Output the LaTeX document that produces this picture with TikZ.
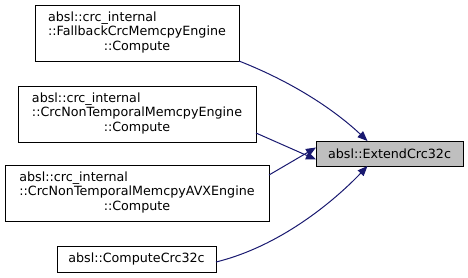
\documentclass[tikz,border=0pt]{standalone}
\usepackage{fontspec}
\setmainfont{DejaVu Sans}
\usetikzlibrary{arrows.meta}
\definecolor{edgeblue}{HTML}{191970}
\definecolor{hitgray}{HTML}{BFBFBF}
\newcommand{\qname}[2]{\begin{tabular}{@{}l@{}}#1\\\multicolumn{1}{@{}c@{}}{#2}\end{tabular}}
\begin{document}
\begin{tikzpicture}[x=1pt, y=-1pt, font=\fontsize{12.7}{14.2}\selectfont,
  fn/.style={draw, line width=1pt, fill=white, inner sep=0pt, outer sep=0pt},
  call/.style={draw=edgeblue, line width=1pt, -{Triangle[length=10pt, width=8pt]}}]
	\useasboundingbox (0, 0) rectangle (468, 277);
	\node[fn, minimum width=204pt, minimum height=56pt] (a) at (137, 33) {\qname{absl::crc\_internal\\::FallbackCrcMemcpyEngine}{::Compute}};
	\node[fn, minimum width=238pt, minimum height=56pt] (b) at (137, 114) {\qname{absl::crc\_internal\\::CrcNonTemporalMemcpyEngine}{::Compute}};
	\node[fn, minimum width=264pt, minimum height=56pt] (c) at (137, 193) {\qname{absl::crc\_internal\\::CrcNonTemporalMemcpyAVXEngine}{::Compute}};
	\node[fn, minimum width=159pt, minimum height=26pt] (d) at (136.5, 259) {absl::ComputeCrc32c};
	\node[fn, fill=hitgray, minimum width=147pt, minimum height=25pt] (t) at (389.5, 153.5) {absl::ExtendCrc32c};
	\draw[call] (a.south east) .. controls (300, 85) and (340, 115) .. ([xshift=-22pt]t.north);
	\draw[call] ([yshift=-19pt]b.east) -- ([yshift=-6pt]t.west);
	\draw[call] ([yshift=18pt]c.east) -- ([yshift=6pt]t.west);
	\draw[call] ([yshift=-3pt]d.east) .. controls (285, 245) and (340, 195) .. ([xshift=-22pt]t.south);
\end{tikzpicture}
\end{document}
